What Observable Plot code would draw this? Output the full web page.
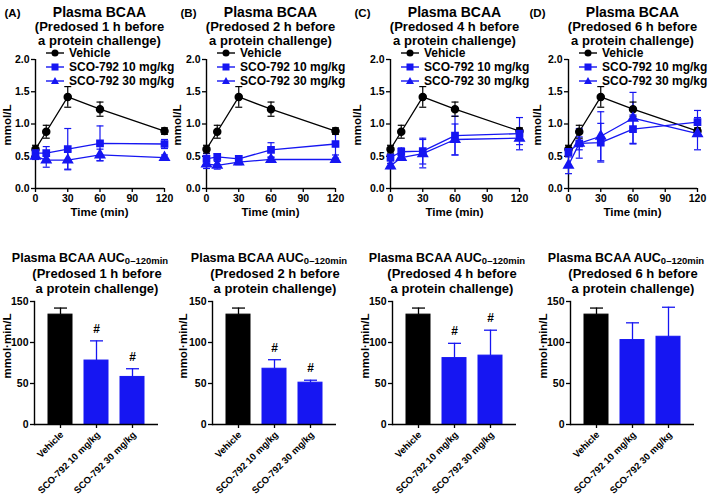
<!DOCTYPE html>
<html>
<head>
<meta charset="utf-8">
<script src="https://cdn.jsdelivr.net/npm/d3@7"></script>
<script src="https://cdn.jsdelivr.net/npm/@observablehq/plot@0.6"></script>
<style>
  body { margin: 0; background: #fff; }
  #root { position: relative; width: 709px; height: 497px; overflow: hidden;
          font-family: "Liberation Sans", Arial, sans-serif; font-weight: bold; color: #000; }
  .abs { position: absolute; }
  .ctr { position: absolute; transform: translate(-50%, -50%); white-space: nowrap; line-height: 1; }
  .rot { position: absolute; transform: translate(-50%, -50%) rotate(-90deg); white-space: nowrap; line-height: 1; }
  .leg { position: absolute; display: flex; align-items: center; white-space: nowrap; font-size: 12px; line-height: 1; }
  .leg svg { display: block; margin-right: 5px; }
  .xl { position: absolute; transform-origin: 100% 50%; transform: translateY(-50%) rotate(-45deg);
        white-space: nowrap; font-size: 9.5px; line-height: 1; }
  sub { font-size: 9.5px; vertical-align: -2px; line-height: 0; }
</style>
</head>
<body>
<div id="root"></div>
<script>
// ---------- data ----------
const times = [0, 10, 30, 60, 120];
const panelLetters = ["(A)", "(B)", "(C)", "(D)"];
const predoseHours = [1, 2, 4, 6];
const groups = ["Vehicle", "SCO-792 10 mg/kg", "SCO-792 30 mg/kg"];

const vehicleMean = [0.61, 0.88, 1.42, 1.23, 0.89];
const vehicleErr  = [0.06, 0.10, 0.16, 0.11, 0.05];

const sco10Mean = [
  [0.55, 0.55, 0.61, 0.70, 0.69],
  [0.46, 0.49, 0.46, 0.60, 0.69],
  [0.48, 0.57, 0.58, 0.82, 0.85],
  [0.57, 0.70, 0.71, 0.92, 1.03]
];
const sco10Err = [
  [0.05, 0.10, 0.32, 0.27, 0.07],
  [0.08, 0.05, 0.04, 0.11, 0.17],
  [0.05, 0.06, 0.20, 0.30, 0.25],
  [0.06, 0.10, 0.30, 0.22, 0.18]
];
const sco30Mean = [
  [0.50, 0.44, 0.44, 0.52, 0.48],
  [0.38, 0.36, 0.41, 0.45, 0.45],
  [0.35, 0.48, 0.54, 0.76, 0.78],
  [0.36, 0.70, 0.81, 1.09, 0.85]
];
const sco30Err = [
  [0.05, 0.11, 0.14, 0.09, 0.04],
  [0.07, 0.06, 0.04, 0.03, 0.02],
  [0.04, 0.04, 0.22, 0.24, 0.10],
  [0.13, 0.23, 0.38, 0.40, 0.25]
];

const aucVehicle    = [134, 134, 134, 134];
const aucVehicleErr = [8, 8, 8, 8];
const auc10    = [78, 68, 81, 103];
const auc10Err = [24, 11, 18, 21];
const auc30    = [58, 51, 84, 107];
const auc30Err = [10, 3, 31, 36];
const sig10 = [true, true, true, false];
const sig30 = [true, true, true, false];

const xTicksTop = [0, 30, 60, 90, 120];
const yTicksTop = [0, 0.5, 1.0, 1.5, 2.0];
const yTicksAuc = [0, 50, 100, 150];

// ---------- style / layout ----------
const BLUE = "#1616f2";
const FONT = "'Liberation Sans', Arial, sans-serif";
const W = 709;
const axisTop = [35, 206, 390, 568];       // pixel x of the y axis, top row
const axisBot = [34, 212, 392, 570];       // pixel x of the y axis, bottom row
const letterX = [5, 181, 355, 530];
const yLabTopX = [8, 178, 358, 538];
const yLabBotX = [8, 184, 366, 544];
const aucTitleX = [90, 269, 447, 626];
const subTitleBotX = [97, 275, 452, 633];

const root = document.getElementById("root");
function addDiv(cls, html, left, top, extra) {
  const d = document.createElement("div");
  d.className = cls;
  d.innerHTML = html;
  if (left != null) d.style.left = left + "px";
  d.style.top = top + "px";
  if (extra) Object.assign(d.style, extra);
  root.appendChild(d);
  return d;
}
const capSym = { draw(ctx, size) { const r = Math.sqrt(size / Math.PI); ctx.moveTo(-r, 0); ctx.lineTo(r, 0); } };
const plotStyle = { fontFamily: FONT, fontSize: "10.5px", fontWeight: "bold", background: "transparent", overflow: "visible", color: "#000" };

function topPanel(i) {
  const rows = [];
  times.forEach((t, k) => {
    rows.push({ t, g: groups[0], m: vehicleMean[k], e: vehicleErr[k] });
    rows.push({ t, g: groups[1], m: sco10Mean[i][k], e: sco10Err[i][k] });
    rows.push({ t, g: groups[2], m: sco30Mean[i][k], e: sco30Err[i][k] });
  });
  return Plot.plot({
    width: 175, height: 159,
    marginLeft: 34, marginRight: 12, marginTop: 8, marginBottom: 22,
    style: plotStyle,
    x: { domain: [0, 120] },
    y: { domain: [0, 2] },
    color: { domain: groups, range: ["#000", BLUE, BLUE] },
    symbol: { domain: groups, range: ["circle", "square", "triangle"] },
    marks: [
      Plot.axisY({ ticks: yTicksTop, tickFormat: d3.format(".1f"), tickSize: 4, tickPadding: 2, label: null, strokeWidth: 1.3 }),
      Plot.axisX({ ticks: xTicksTop, tickSize: 4, tickPadding: 2, label: null, strokeWidth: 1.3 }),
      Plot.ruleX([0], { strokeWidth: 1.4 }),
      Plot.ruleY([0], { strokeWidth: 1.4 }),
      Plot.line(rows, { x: "t", y: "m", z: "g", stroke: "g", strokeWidth: 1.3 }),
      Plot.ruleX(rows, { x: "t", y1: d => d.m - d.e, y2: d => d.m + d.e, stroke: "g", strokeWidth: 1.2 }),
      Plot.dot(rows, { x: "t", y: d => d.m + d.e, symbol: capSym, r: 3.5, fill: "none", stroke: "g", strokeWidth: 1.2 }),
      Plot.dot(rows, { x: "t", y: d => d.m - d.e, symbol: capSym, r: 3.5, fill: "none", stroke: "g", strokeWidth: 1.2 }),
      Plot.dot(rows, { x: "t", y: "m", symbol: "g", fill: "g", stroke: "g", r: 3.5 })
    ]
  });
}

function aucPanel(i) {
  const means = [aucVehicle, auc10, auc30];
  const errs = [aucVehicleErr, auc10Err, auc30Err];
  const sigs = [[false, false, false, false], sig10, sig30];
  const rows = groups.map((g, j) => ({ g, m: means[j][i], e: errs[j][i], sig: sigs[j][i] }));
  return Plot.plot({
    width: 170, height: 203,
    marginLeft: 34, marginRight: 12, marginTop: 8, marginBottom: 72,
    style: plotStyle,
    x: { domain: groups, paddingInner: 0.32, paddingOuter: 0.35 },
    y: { domain: [0, 150] },
    color: { domain: groups, range: ["#000", BLUE, BLUE] },
    marks: [
      Plot.axisY({ ticks: yTicksAuc, tickSize: 4, tickPadding: 2, label: null, strokeWidth: 1.3 }),
      Plot.axisX({ tickSize: 4, tickFormat: () => "", label: null, strokeWidth: 1.3 }),
      Plot.ruleX(rows, { x: "g", y1: "m", y2: d => d.m + d.e, stroke: "g", strokeWidth: 1.3 }),
      Plot.dot(rows, { x: "g", y: d => d.m + d.e, symbol: capSym, r: 6.5, fill: "none", stroke: "g", strokeWidth: 1.3 }),
      Plot.barY(rows, { x: "g", y: "m", fill: "g", stroke: "g", strokeWidth: 1 }),
      Plot.frame({ anchor: "left", strokeWidth: 1.4 }),
      Plot.ruleY([0], { strokeWidth: 1.4 }),
      Plot.text(rows.filter(d => d.sig), { x: "g", y: d => d.m + d.e, text: () => "#", dy: -12, fontSize: 12, fontWeight: "bold" })
    ]
  });
}

function legendIcon(sym) {
  let mark = "";
  if (sym === "circle") mark = `<circle cx="9" cy="5" r="3.5" fill="currentColor"/>`;
  else if (sym === "square") mark = `<rect x="5.5" y="1.5" width="7" height="7" fill="currentColor"/>`;
  else mark = `<path d="M9,1 L13,8 L5,8 Z" fill="currentColor"/>`;
  return `<svg width="18" height="10"><line x1="0" x2="18" y1="5" y2="5" stroke="currentColor" stroke-width="1.4"/>${mark}</svg>`;
}
const legendSyms = ["circle", "square", "triangle"];
const legendColors = ["#000", BLUE, BLUE];
const legendRowY = [53, 67, 80.5];

for (let i = 0; i < 4; i++) {
  const ax = axisTop[i];
  // panel letter
  addDiv("ctr", panelLetters[i], letterX[i] + 7.5, 14, { fontSize: "11.5px" });
  // title
  addDiv("ctr", "Plasma BCAA", ax + 64.5, 12, { fontSize: "14px" });
  addDiv("ctr", `(Predosed ${predoseHours[i]} h before`, ax + 64.5, 26, { fontSize: "13px" });
  addDiv("ctr", "a protein challenge)", ax + 64.5, 39.5, { fontSize: "13px" });
  // plot
  const p = topPanel(i);
  const w = addDiv("abs", "", ax - 34, 51);
  w.appendChild(p);
  // legend
  groups.forEach((g, j) => {
    addDiv("leg", legendIcon(legendSyms[j]) + `<span style="color:#000">${g}</span>`, ax + 11, legendRowY[j], { color: legendColors[j], transform: "translateY(-50%)" });
  });
  // axis labels
  addDiv("rot", "mmol/L", yLabTopX[i], 125, { fontSize: "11.5px" });
  addDiv("ctr", "Time (min)", ax + 64.5, 213, { fontSize: "11.5px" });

  // bottom row
  const bx = axisBot[i];
  addDiv("ctr", `Plasma BCAA AUC<sub>0–120min</sub>`, aucTitleX[i], 257.5, { fontSize: "12.5px" });
  addDiv("ctr", `(Predosed ${predoseHours[i]} h before`, subTitleBotX[i], 272.5, { fontSize: "13px" });
  addDiv("ctr", "a protein challenge)", subTitleBotX[i], 287.5, { fontSize: "13px" });
  const q = aucPanel(i);
  const left2 = bx - 34, top2 = 293;
  const w2 = addDiv("abs", "", left2, top2);
  w2.appendChild(q);
  // rotated category labels placed from the plot's own band scale
  const sx = q.scale("x"), sy = q.scale("y");
  const bw = sx.bandwidth || 0;
  const axisY = top2 + sy.apply(0);
  groups.forEach(g => {
    const cx = left2 + sx.apply(g) + bw / 2;
    addDiv("xl", g, null, axisY + 9, { right: (W - cx - 2) + "px" });
  });
  addDiv("rot", "mmol·min/L", yLabBotX[i], 346, { fontSize: "11.5px" });
}
</script>
</body>
</html>
